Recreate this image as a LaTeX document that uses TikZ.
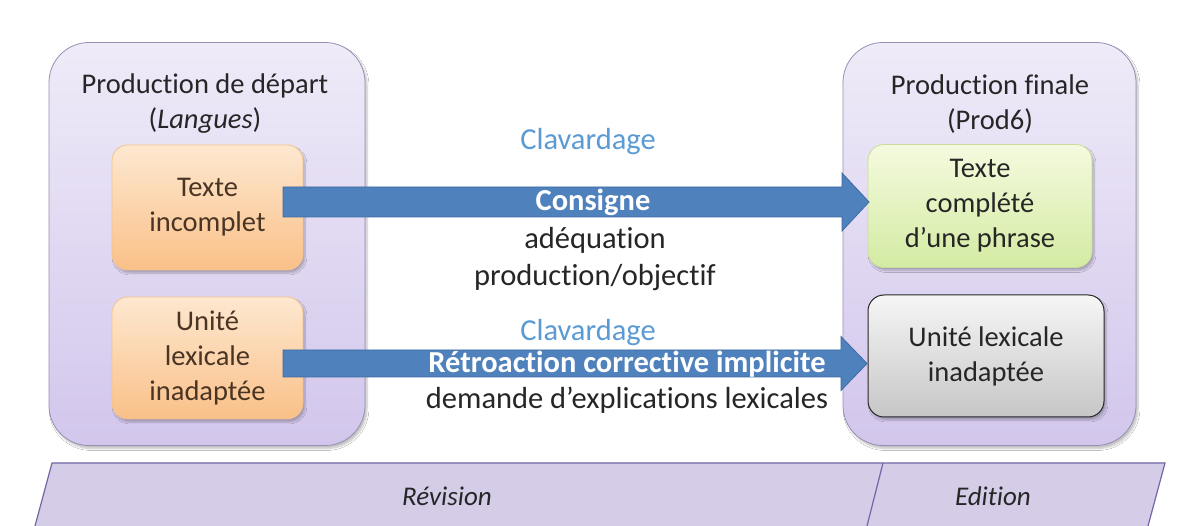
\documentclass[tikz,border=0pt]{standalone}
\usepackage{fontspec}
\setmainfont{Carlito}[Ligatures=NoCommon]
\usetikzlibrary{shadows.blur,calc}
\definecolor{bigtop}{HTML}{EFEBF8}
\definecolor{bigbot}{HTML}{D2C6EC}
\definecolor{bigline}{HTML}{9890B4}
\definecolor{ortop}{HTML}{FDE8D0}
\definecolor{orbot}{HTML}{FAC088}
\definecolor{orline}{HTML}{F2C290}
\definecolor{grtop}{HTML}{F5FADF}
\definecolor{grbot}{HTML}{D3EBA2}
\definecolor{grline}{HTML}{C8DC9C}
\definecolor{gytop}{HTML}{F6F6F6}
\definecolor{gybot}{HTML}{C6C6C6}
\definecolor{arrfill}{HTML}{4F81BD}
\definecolor{arrline}{HTML}{3D6BA3}
\definecolor{clav}{HTML}{5B9BD5}
\definecolor{bandfill}{HTML}{D5CCE8}
\definecolor{bandline}{HTML}{7466A6}
\definecolor{txt}{HTML}{262626}
\definecolor{brown}{HTML}{4A3524}
\newcommand{\boxfont}{\fontsize{28.5}{35}\selectfont}
\newcommand{\midfont}{\fontsize{30.5}{37}\selectfont}
\tikzset{
  shadowed/.style={blur shadow={shadow xshift=2pt,shadow yshift=-3pt,shadow blur steps=6,shadow opacity=25}},
  bigbox/.style={rounded corners=40pt,top color=bigtop,bottom color=bigbot,draw=bigline,line width=0.8pt,shadowed},
  orbox/.style={rounded corners=16pt,top color=ortop,bottom color=orbot,draw=orline,line width=0.8pt,shadowed,text=brown,align=center,inner sep=0pt,font=\boxfont},
  grbox/.style={rounded corners=16pt,top color=grtop,bottom color=grbot,draw=grline,line width=0.8pt,shadowed,text=txt,align=center,inner sep=0pt,font=\boxfont},
  gybox/.style={rounded corners=16pt,top color=gytop,bottom color=gybot,draw=black!85,line width=1pt,shadowed,text=txt,align=center,inner sep=0pt,font=\boxfont},
  lbl/.style={text=txt,align=center,inner sep=0pt,font=\boxfont},
  midlbl/.style={text=txt,align=center,inner sep=0pt,font=\midfont},
  clavlbl/.style={text=clav,inner sep=0pt,font=\midfont},
  onarrow/.style={text=white,font=\midfont\bfseries,inner sep=0pt},
  bigarrow/.style={fill=arrfill,draw=arrline,line width=0.8pt,line join=miter},
  phase/.style={text=txt,font=\fontsize{27}{32}\selectfont\itshape,inner sep=0pt}
}
\begin{document}
\begin{tikzpicture}[x=1pt,y=-1pt]
\useasboundingbox (0,0) rectangle (1184,526);
\fill[white] (0,0) rectangle (1184,526);
% big containers
\node[bigbox,minimum width=316pt,minimum height=403pt] (dep) at (207,244) {};
\node[bigbox,minimum width=293pt,minimum height=403pt] (fin) at (989.5,244) {};
% headings
\node[lbl] (deph) at (205,104) {Production de départ\\(\textit{Langues})};
\node[lbl] (finh) at (990,104) {Production finale\\(Prod6)};
% inner boxes
\node[orbox,minimum width=191pt,minimum height=125pt] (ti) at (207.5,207.5) {Texte\\incomplet};
\node[orbox,minimum width=191pt,minimum height=122pt] (ul) at (207.5,358) {Unité\\lexicale\\inadaptée};
\node[grbox,minimum width=224pt,minimum height=123pt] (tc) at (980,206) {Texte\\complété\\d’une phrase};
\node[gybox,minimum width=236pt,minimum height=122pt] (ulf) at (986,356) {Unité lexicale\\inadaptée};
% arrow end points
\coordinate (a1s) at (283,202);
\coordinate (a1e) at (869,202);
\coordinate (a2s) at (283,363.5);
\coordinate (a2e) at (867,363.5);
% arrows
\draw[bigarrow] ($(a1s)+(0,-15)$) -- ($(a1e)+(-27,-15)$) -- ($(a1e)+(-27,-29)$) -- (a1e)
  -- ($(a1e)+(-27,29)$) -- ($(a1e)+(-27,15)$) -- ($(a1s)+(0,15)$) -- cycle;
\draw[bigarrow] ($(a2s)+(0,-13.5)$) -- ($(a2e)+(-26,-13.5)$) -- ($(a2e)+(-26,-27)$) -- (a2e)
  -- ($(a2e)+(-26,27)$) -- ($(a2e)+(-26,13.5)$) -- ($(a2s)+(0,13.5)$) -- cycle;
% middle labels
\node[clavlbl] (clav1) at (588,142) {Clavardage};
\node[onarrow] (cons) at (593,202) {Consigne};
\node[midlbl] (adeq) at (595,259) {adéquation\\production/objectif};
\node[clavlbl] (clav2) at (588,333) {Clavardage};
\node[onarrow] (retro) at (627,364) {Rétroaction corrective implicite};
\node[midlbl] (dem) at (627,400) {demande d’explications lexicales};
% phase band
\fill[bandfill] (52,463) -- (1165,463) -- (1148,526) -- (35,526) -- cycle;
\draw[bandline,line width=1.2pt] (35,526) -- (52,463) -- (1165,463) -- (1148,526);
\draw[bandline,line width=1.2pt] (883,463) -- (867,526);
\node[phase] (rev) at (447,496) {Révision};
\node[phase] (edi) at (993,496) {Edition};
\end{tikzpicture}
\end{document}
